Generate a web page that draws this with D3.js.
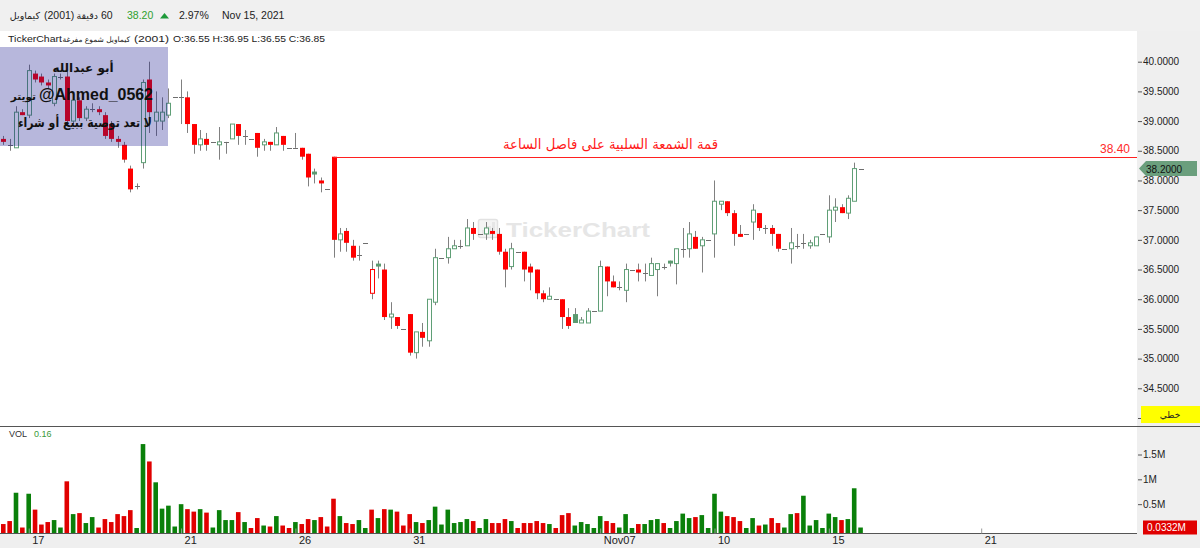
<!DOCTYPE html>
<html>
<head>
<meta charset="utf-8">
<script src="https://cdn.jsdelivr.net/npm/d3@7"></script>
<style>
  body { margin: 0; background: #fff; }
  svg { display: block; }
</style>
</head>
<body>
<svg id="chart" width="1200" height="548"></svg>
<script>
// hourly candles, 6 bars per trading day
const opens = [
  38.70,38.60,38.55,39.15,39.10,39.80,39.75,39.65,39.30,39.75,
  39.75,39.00,39.35,39.05,39.20,39.20,39.10,38.95,38.70,38.60,
  38.20,37.90,38.30,39.70,39.00,39.00,39.10,39.40,39.40,39.40,
  38.95,38.60,38.70,38.65,38.60,38.65,38.70,38.95,38.75,38.70,
  38.80,38.60,38.65,38.60,38.75,38.55,38.55,38.55,38.45,38.15,
  38.00,37.85,38.40,37.00,37.15,36.90,36.75,36.95,36.10,36.60,
  36.50,35.70,35.70,35.50,35.75,35.10,35.45,35.30,35.95,36.70,
  36.70,36.85,36.90,36.90,37.20,37.10,37.10,37.15,37.10,36.80,
  36.55,36.80,36.80,36.55,36.50,36.10,36.00,36.00,36.00,35.70,
  35.75,35.60,35.60,35.80,35.80,36.55,36.30,36.20,36.15,36.50,
  36.50,36.45,36.40,36.50,36.55,36.65,36.60,36.85,36.85,37.05,
  36.90,37.00,37.10,37.60,37.65,37.45,37.10,37.10,37.30,37.45,
  37.20,37.20,37.10,36.85,36.85,36.90,36.95,36.90,36.90,37.10,
  37.05,37.50,37.55,37.45,37.65,38.20
];
const highs = [
  38.75,38.70,39.25,39.20,39.95,39.85,39.80,39.70,39.80,39.80,
  39.85,39.40,39.40,39.25,39.30,39.25,39.15,39.00,38.75,38.65,
  38.25,37.95,39.70,40.00,39.50,39.40,39.55,39.40,39.70,39.50,
  38.95,38.85,38.80,38.65,38.90,38.65,38.95,38.95,38.85,38.70,
  38.80,38.70,38.65,38.90,38.75,38.55,38.80,38.55,38.45,38.20,
  38.05,37.85,38.40,37.20,37.20,37.00,36.90,36.95,36.65,36.65,
  36.60,35.95,35.70,35.50,35.75,35.45,35.60,36.00,36.85,36.70,
  37.05,37.00,37.00,37.35,37.30,37.10,37.30,37.20,37.20,36.85,
  36.95,36.80,36.80,36.60,36.50,36.15,36.20,36.00,36.00,35.85,
  35.85,35.70,35.85,35.80,36.65,36.55,36.40,36.30,36.60,36.50,
  36.60,36.60,36.70,36.60,36.60,36.65,36.85,37.20,37.30,37.15,
  37.05,37.00,38.00,37.65,37.65,37.50,37.25,37.10,37.60,37.45,
  37.25,37.25,37.10,36.85,37.20,37.10,37.10,37.00,37.05,37.10,
  37.75,37.70,37.60,37.75,38.30,38.20
];
const lows = [
  38.60,38.50,38.55,39.10,39.05,39.65,39.60,39.55,39.25,39.70,
  38.95,38.95,39.00,39.00,39.15,39.10,38.70,38.65,38.55,38.30,
  37.80,37.85,38.20,38.80,38.75,38.85,39.05,39.40,38.95,38.80,
  38.45,38.50,38.50,38.65,38.35,38.45,38.70,38.60,38.60,38.70,
  38.40,38.50,38.50,38.60,38.50,38.55,38.55,38.35,37.90,37.95,
  37.80,37.85,36.70,36.80,36.80,36.65,36.65,36.95,36.00,36.35,
  35.65,35.50,35.50,35.50,35.05,35.00,35.20,35.20,35.90,36.70,
  36.60,36.85,36.85,36.90,37.00,37.10,37.00,37.00,36.75,36.20,
  36.50,36.80,36.30,36.15,36.00,35.95,36.00,36.00,35.50,35.50,
  35.60,35.60,35.60,35.80,35.80,36.05,36.20,36.15,35.95,36.50,
  36.30,36.30,36.40,36.05,36.50,36.55,36.25,36.70,36.70,36.85,
  36.45,37.00,36.70,37.50,37.40,36.90,37.05,37.10,37.00,37.15,
  37.10,36.90,36.80,36.85,36.60,36.85,36.85,36.85,36.90,37.10,
  36.95,37.30,37.45,37.35,37.65,38.20
];
const closes = [
  38.65,38.60,39.15,39.10,39.85,39.70,39.65,39.60,39.75,39.75,
  39.00,39.35,39.05,39.20,39.20,39.15,38.75,38.70,38.65,38.35,
  37.85,37.90,39.65,39.15,39.15,39.15,39.30,39.40,39.40,38.95,
  38.60,38.70,38.60,38.65,38.65,38.65,38.95,38.75,38.75,38.70,
  38.55,38.65,38.60,38.80,38.60,38.55,38.55,38.40,38.05,38.10,
  37.95,37.85,37.00,37.10,36.95,36.70,36.75,36.95,36.50,36.55,
  35.70,35.75,35.55,35.50,35.10,35.45,35.35,36.00,36.70,36.70,
  36.85,36.90,36.90,37.20,37.10,37.10,37.20,37.10,36.80,36.50,
  36.85,36.80,36.50,36.45,36.10,36.00,36.05,36.00,35.70,35.55,
  35.60,35.65,35.80,35.80,36.55,36.30,36.20,36.20,36.50,36.50,
  36.45,36.45,36.60,36.60,36.55,36.60,36.85,36.85,37.10,36.85,
  37.00,37.00,37.65,37.65,37.45,37.10,37.05,37.10,37.50,37.20,
  37.20,37.10,36.85,36.85,36.95,36.90,36.95,36.95,37.05,37.10,
  37.50,37.55,37.45,37.70,38.20,38.20
];
// volume in millions
const volumes = [
  0.10,0.16,0.73,0.03,0.71,0.39,0.09,0.14,0.18,0.03,
  0.96,0.30,0.32,0.12,0.24,0.03,0.20,0.14,0.30,0.26,
  0.38,0.02,1.71,1.36,0.94,0.41,0.47,0.05,0.50,0.40,
  0.35,0.40,0.33,0.03,0.38,0.18,0.18,0.34,0.14,0.02,
  0.22,0.07,0.05,0.26,0.07,0.02,0.14,0.10,0.20,0.18,
  0.24,0.05,0.61,0.26,0.12,0.10,0.18,0.02,0.39,0.22,
  0.40,0.39,0.35,0.07,0.30,0.14,0.12,0.18,0.45,0.09,
  0.39,0.12,0.14,0.20,0.16,0.02,0.20,0.12,0.12,0.20,
  0.16,0.02,0.12,0.12,0.16,0.12,0.10,0.02,0.28,0.32,
  0.07,0.14,0.10,0.02,0.26,0.16,0.12,0.03,0.30,0.02,
  0.10,0.10,0.18,0.20,0.12,0.02,0.16,0.31,0.22,0.24,
  0.28,0.02,0.71,0.35,0.26,0.24,0.16,0.02,0.22,0.07,
  0.09,0.22,0.12,0.03,0.30,0.32,0.67,0.07,0.18,0.02,
  0.31,0.24,0.18,0.20,0.82,0.03
];
const firstPrevClose = 38.75;

const priceTicks = [34.0, 34.5, 35.0, 35.5, 36.0, 36.5, 37.0, 37.5, 38.0, 38.5, 39.0, 39.5, 40.0];
const volTicks = [0.5, 1, 1.5];
const dayTickBars = [4, 28, 46, 64, 94, 112, 130, 154];
const dayTickLabels = ['17', '21', '26', '31', 'Nov07', '10', '15', '21'];

const lastPrice = 38.20;
const lastVolume = 0.0332;
const levelPrice = 38.40;
const levelBar = 52;

const width = 1200, height = 548;
const plot_right = 1137;
const price_top = 31, price_bottom = 426, vol_bottom = 533.5;

const green_line = '#5f9f76';
const green_fill = '#5c9a70';
const red_c = '#ff0000';
const wick_color = '#808080';
const panel_gray = '#efefef';
const latin = '"Liberation Sans", Arial, sans-serif';
const arabic = '"DejaVu Sans", sans-serif';

const svg = d3.select('#chart');

const x = d3.scaleLinear()
  .domain([0, 178])
  .range([3.3, 3.3 + 178 * 6.35]);

const y = d3.scaleLinear()
  .domain([34.5, 40])
  .range([388.3, 61.7]);

const yv = d3.scaleLinear()
  .domain([0, 1.5])
  .range([529, 454.5]);

const bars = opens.map((o, i) => ({
  i,
  o,
  h: highs[i],
  l: lows[i],
  c: closes[i],
  v: volumes[i],
  up: closes[i] >= (i === 0 ? firstPrevClose : closes[i - 1])
}));

// backgrounds
svg.append('rect').attr('width', width).attr('height', height).attr('fill', '#fff');
svg.append('rect').attr('width', width).attr('height', price_top).attr('fill', '#f0f0f0');
svg.append('rect')
  .attr('x', plot_right).attr('y', price_top)
  .attr('width', width - plot_right).attr('height', height - price_top)
  .attr('fill', panel_gray);
svg.append('rect')
  .attr('x', 0).attr('y', vol_bottom)
  .attr('width', width).attr('height', height - vol_bottom)
  .attr('fill', panel_gray);

// clip for candles
const defs = svg.append('defs');
defs.append('clipPath').attr('id', 'price-clip')
  .append('rect').attr('x', 0).attr('y', price_top + 14)
  .attr('width', plot_right).attr('height', price_bottom - price_top - 14);

// watermark
const wm = svg.append('g');
wm.append('rect')
  .attr('x', 478.5).attr('y', 219.5).attr('width', 19).attr('height', 18).attr('rx', 2)
  .attr('fill', '#f4f4f4').attr('stroke', '#e2e2e2').attr('stroke-width', 1.5);
[[482, 230, 4, 5], [487, 226, 4, 9], [492, 222, 3, 13]].forEach(([bx, by, bw, bh]) => {
  wm.append('rect').attr('x', bx).attr('y', by).attr('width', bw).attr('height', bh).attr('fill', '#e6e6e6');
});
wm.append('text')
  .attr('x', 506).attr('y', 237)
  .attr('font-family', latin).attr('font-weight', 'bold').attr('font-size', 21)
  .attr('fill', '#e6e6e6')
  .attr('textLength', 144).attr('lengthAdjust', 'spacingAndGlyphs')
  .text('TickerChart');

// candles
const candle_g = svg.append('g').attr('clip-path', 'url(#price-clip)');

const candle = candle_g.selectAll('g.candle')
  .data(bars)
  .join('g')
  .attr('class', 'candle');

candle.append('line')
  .attr('x1', d => Math.round(x(d.i)) + 0.5)
  .attr('x2', d => Math.round(x(d.i)) + 0.5)
  .attr('y1', d => y(d.h))
  .attr('y2', d => y(d.l))
  .attr('stroke', wick_color)
  .attr('stroke-width', 1);

candle.each(function(d){
  const g = d3.select(this);
  const left = Math.round(x(d.i)) - 2;
  const color = d.up ? green_line : red_c;
  if (d.o === d.c) {
    const yy = Math.round(y(d.c)) + 0.5;
    g.append('line')
      .attr('x1', left).attr('x2', left + 5)
      .attr('y1', yy).attr('y2', yy)
      .attr('stroke', '#6e6e6e').attr('stroke-width', 1);
    return;
  }
  const top = y(Math.max(d.o, d.c));
  const bot = y(Math.min(d.o, d.c));
  if (d.c > d.o) {
    // hollow body
    g.append('rect')
      .attr('x', left + 0.5).attr('y', top)
      .attr('width', 4).attr('height', Math.max(1, bot - top))
      .attr('fill', '#fff')
      .attr('stroke', color).attr('stroke-width', 1);
  } else {
    g.append('rect')
      .attr('x', left).attr('y', top)
      .attr('width', 5).attr('height', Math.max(1.5, bot - top))
      .attr('fill', d.up ? green_fill : red_c);
  }
});

// resistance level line
svg.append('line')
  .attr('x1', x(levelBar)).attr('x2', plot_right)
  .attr('y1', Math.round(y(levelPrice)) + 0.5).attr('y2', Math.round(y(levelPrice)) + 0.5)
  .attr('stroke', '#ff2020').attr('stroke-width', 1);

svg.append('text')
  .attr('x', 1130).attr('y', 153)
  .attr('text-anchor', 'end')
  .attr('font-family', latin).attr('font-size', 12)
  .attr('fill', '#ff2a2a')
  .text(levelPrice.toFixed(2));

svg.append('text')
  .attr('x', 503).attr('y', 149)
  .attr('font-family', arabic).attr('font-size', 14)
  .attr('fill', '#ff1a1a')
  .attr('textLength', 215).attr('lengthAdjust', 'spacingAndGlyphs')
  .text('قمة الشمعة السلبية على فاصل الساعة');

// author box over the first candles
svg.append('rect')
  .attr('x', 0).attr('y', 47)
  .attr('width', 168).attr('height', 99)
  .attr('fill', 'rgb(15,15,138)').attr('fill-opacity', 0.3);

svg.append('text')
  .attr('x', 83).attr('y', 72)
  .attr('text-anchor', 'middle')
  .attr('font-family', arabic).attr('font-weight', 'bold').attr('font-size', 12)
  .attr('fill', '#111')
  .text('أبو عبدالله');
svg.append('text')
  .attr('x', 36).attr('y', 100)
  .attr('text-anchor', 'end')
  .attr('font-family', arabic).attr('font-weight', 'bold').attr('font-size', 10.5)
  .attr('fill', '#111')
  .text('تويتر');
svg.append('text')
  .attr('x', 39).attr('y', 100)
  .attr('font-family', latin).attr('font-weight', 'bold').attr('font-size', 17)
  .attr('fill', '#111')
  .attr('textLength', 114).attr('lengthAdjust', 'spacingAndGlyphs')
  .text('@Ahmed_0562');
svg.append('text')
  .attr('x', 18).attr('y', 127)
  .attr('font-family', arabic).attr('font-weight', 'bold').attr('font-size', 13)
  .attr('fill', '#111')
  .attr('textLength', 134).attr('lengthAdjust', 'spacingAndGlyphs')
  .text('لا تعد توصية ببيع أو شراء');

// volume bars
svg.append('g')
  .selectAll('rect')
  .data(bars)
  .join('rect')
  .attr('x', d => x(d.i) - 2.3)
  .attr('width', 4.6)
  .attr('y', d => yv(d.v))
  .attr('height', d => vol_bottom - yv(d.v))
  .attr('fill', d => d.up ? '#0a800a' : '#e00000');

// panel lines
svg.append('line')
  .attr('x1', 0).attr('x2', width)
  .attr('y1', price_bottom + 0.5).attr('y2', price_bottom + 0.5)
  .attr('stroke', '#555').attr('stroke-width', 1);
svg.append('line')
  .attr('x1', 0).attr('x2', plot_right)
  .attr('y1', vol_bottom).attr('y2', vol_bottom)
  .attr('stroke', '#555').attr('stroke-width', 1);

// price axis (the 34.0000 label sits under the chart-type box)
const price_axis = svg.append('g')
  .attr('transform', `translate(${plot_right + 1},0)`)
  .call(d3.axisRight(y).tickValues(priceTicks).tickSize(4).tickPadding(1)
    .tickFormat(d => d < 34.5 ? '' : d3.format('.4f')(d)));
price_axis.select('.domain').remove();
price_axis.selectAll('line').attr('stroke', '#555');
price_axis.selectAll('text').attr('font-family', latin).attr('font-size', 10).attr('fill', '#222');

// volume axis
const vol_axis = svg.append('g')
  .attr('transform', `translate(${plot_right + 1},0)`)
  .call(d3.axisRight(yv).tickValues(volTicks).tickSize(4).tickPadding(1).tickFormat(d => d + 'M'));
vol_axis.select('.domain').remove();
vol_axis.selectAll('line').attr('stroke', '#555');
vol_axis.selectAll('text').attr('font-family', latin).attr('font-size', 10).attr('fill', '#222');

// time axis
const time_axis = svg.append('g')
  .attr('transform', `translate(0,${vol_bottom})`)
  .call(d3.axisBottom(x).tickValues(dayTickBars).tickSize(-5).tickPadding(3).tickFormat((d, i) => dayTickLabels[i]));
time_axis.select('.domain').remove();
time_axis.selectAll('line').attr('stroke', '#999');
time_axis.selectAll('text')
  .attr('text-anchor', 'start').attr('x', 3)
  .attr('font-family', latin).attr('font-size', 11).attr('fill', '#222');

// last price tag
const tag_y = y(lastPrice);
svg.append('path')
  .attr('d', `M${plot_right + 2},${tag_y} L${plot_right + 9},${tag_y - 7.5} L1197,${tag_y - 7.5} L1197,${tag_y + 7.5} L${plot_right + 9},${tag_y + 7.5} Z`)
  .attr('fill', '#6b9f7d');
svg.append('text')
  .attr('x', 1146).attr('y', tag_y + 4)
  .attr('font-family', latin).attr('font-size', 10).attr('fill', '#111')
  .text(lastPrice.toFixed(4));

// chart type box
svg.append('rect')
  .attr('x', 1141).attr('y', 406).attr('width', 59).attr('height', 17)
  .attr('fill', '#ffff00');
svg.append('text')
  .attr('x', 1170).attr('y', 418)
  .attr('text-anchor', 'middle')
  .attr('font-family', arabic).attr('font-size', 9).attr('fill', '#222')
  .text('خطي');

// last volume tag
svg.append('rect')
  .attr('x', 1143).attr('y', 520.5).attr('width', 54).attr('height', 14)
  .attr('fill', '#e00000');
svg.append('text')
  .attr('x', 1147).attr('y', 531)
  .attr('font-family', latin).attr('font-size', 10).attr('fill', '#fff')
  .text(lastVolume.toFixed(4) + 'M');

// VOL label
svg.append('text')
  .attr('x', 9).attr('y', 437)
  .attr('font-family', latin).attr('font-size', 9).attr('fill', '#333')
  .text('VOL');
svg.append('text')
  .attr('x', 34).attr('y', 437)
  .attr('font-family', latin).attr('font-size', 9).attr('fill', '#3a9a3a')
  .text('0.16');

// header
const header_font = 10.5;
svg.append('text').attr('x', 40).attr('y', 18.5)
  .attr('text-anchor', 'end')
  .attr('font-family', arabic).attr('font-size', 9.5).attr('fill', '#222')
  .text('كيماويل');
svg.append('text').attr('x', 44).attr('y', 18.5)
  .attr('font-family', latin).attr('font-size', header_font).attr('fill', '#222')
  .text('(2001)');
svg.append('text').attr('x', 98).attr('y', 18.5)
  .attr('text-anchor', 'end')
  .attr('font-family', arabic).attr('font-size', 9.5).attr('fill', '#222')
  .text('دقيقة');
svg.append('text').attr('x', 101).attr('y', 18.5)
  .attr('font-family', latin).attr('font-size', header_font).attr('fill', '#222')
  .text('60');
svg.append('text').attr('x', 127).attr('y', 18.5)
  .attr('font-family', latin).attr('font-size', header_font).attr('fill', '#2ea02e')
  .text(lastPrice.toFixed(2));
svg.append('path')
  .attr('d', 'M160,18.5 L164.5,13 L169,18.5 Z')
  .attr('fill', '#1e9a3a');
svg.append('text').attr('x', 179).attr('y', 18.5)
  .attr('font-family', latin).attr('font-size', header_font).attr('fill', '#222')
  .text('2.97%');
svg.append('text').attr('x', 222).attr('y', 18.5)
  .attr('font-family', latin).attr('font-size', header_font).attr('fill', '#222')
  .text('Nov 15, 2021');

// info line
const info_size = 9.5;
svg.append('text').attr('x', 8).attr('y', 41.5)
  .attr('font-family', latin).attr('font-size', info_size).attr('fill', '#222')
  .attr('textLength', 54).attr('lengthAdjust', 'spacingAndGlyphs')
  .text('TickerChart');
svg.append('text').attr('x', 130).attr('y', 41.5)
  .attr('text-anchor', 'end')
  .attr('font-family', arabic).attr('font-size', 7.5).attr('fill', '#222')
  .text('كيماويل شموع مفرغة');
svg.append('text').attr('x', 134).attr('y', 41.5)
  .attr('font-family', latin).attr('font-size', info_size).attr('fill', '#222')
  .attr('textLength', 35).attr('lengthAdjust', 'spacingAndGlyphs')
  .text('(2001)');
svg.append('text').attr('x', 173).attr('y', 41.5)
  .attr('font-family', latin).attr('font-size', info_size).attr('fill', '#222')
  .attr('textLength', 152).attr('lengthAdjust', 'spacingAndGlyphs')
  .text('O:36.55  H:36.95  L:36.55  C:36.85');
</script>
</body>
</html>
